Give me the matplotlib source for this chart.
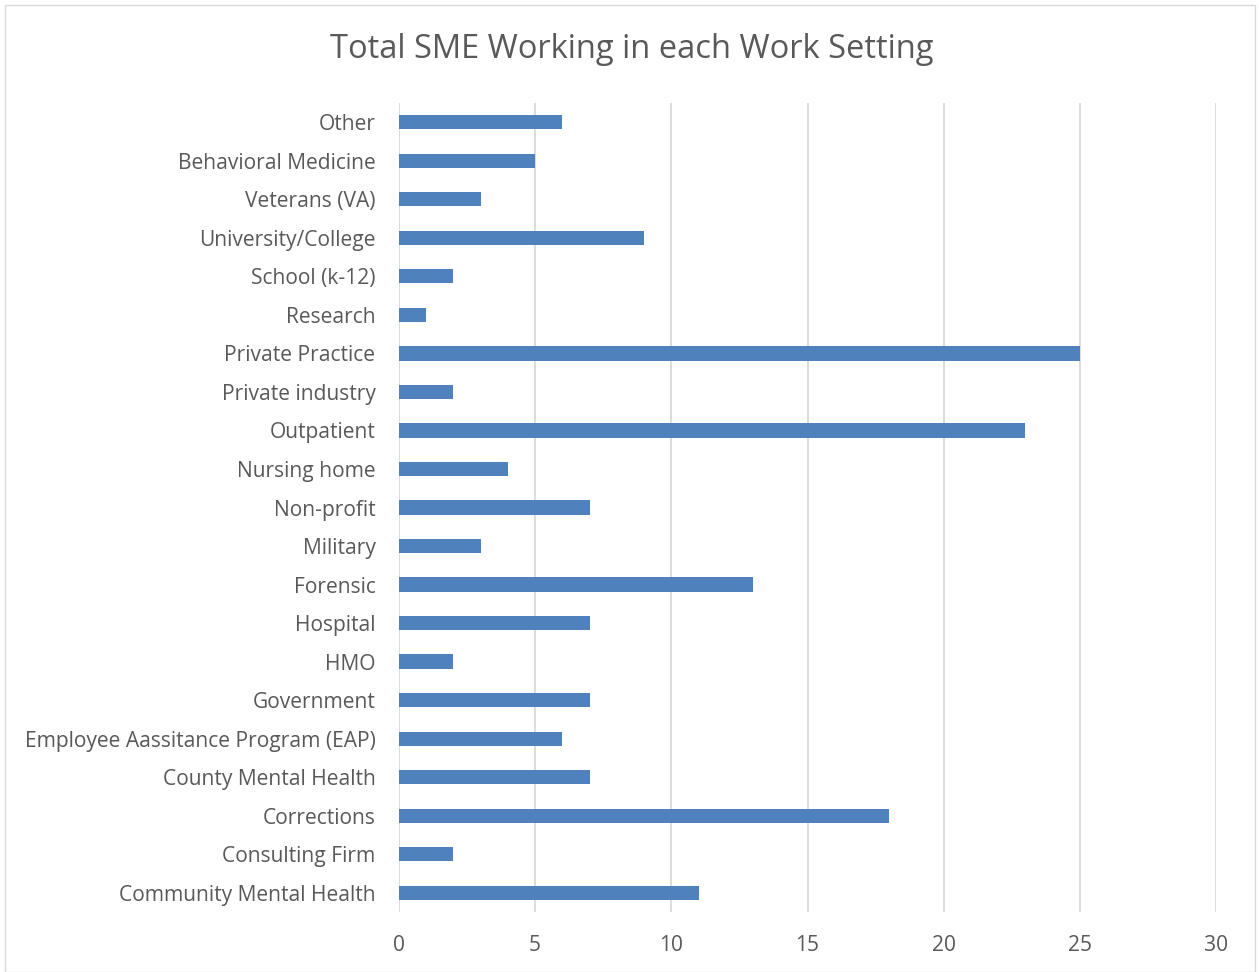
import matplotlib
matplotlib.use("Agg")
import matplotlib.pyplot as plt
from matplotlib.patches import Rectangle

plt.rcParams['font.family'] = ['Open Sans', 'DejaVu Sans']

categories = [
    "Community Mental Health", "Consulting Firm", "Corrections",
    "County Mental Health", "Employee Aassitance Program (EAP)", "Government",
    "HMO", "Hospital", "Forensic", "Military", "Non-profit", "Nursing home",
    "Outpatient", "Private industry", "Private Practice", "Research",
    "School (k-12)", "University/College", "Veterans (VA)",
    "Behavioral Medicine", "Other",
]
counts = [11, 2, 18, 7, 6, 7, 2, 7, 13, 3, 7, 4, 23, 2, 25, 1, 2, 9, 3, 5, 6]
x_ticks = [0, 5, 10, 15, 20, 25, 30]
title = "Total SME Working in each Work Setting"

W, H = 1259, 972
fig = plt.figure(figsize=(W / 100, H / 100), dpi=100)
fig.patch.set_facecolor("white")

# light outer frame of the chart area
fig.patches.append(Rectangle((5 / W, 0.5 / H), (W - 9) / W, (H - 6) / H,
                             transform=fig.transFigure, fill=False,
                             edgecolor="#d9d9d9", linewidth=1.0))

ax = fig.add_axes([399 / W, 1 - 912 / H, (1216 - 399) / W, (912 - 103) / H])
y = list(range(len(categories)))
ax.barh(y, counts, height=0.37, color="#4f81bd", zorder=3)

ax.set_xlim(0, 30)
ax.set_ylim(-0.5, len(categories) - 0.5)
ax.set_xticks(x_ticks)
ax.set_yticks(y)
ax.set_yticklabels(categories)
ax.grid(axis="x", color="#d9d9d9", linewidth=1.3, zorder=0)
for s in ax.spines.values():
    s.set_visible(False)
ax.tick_params(axis="both", length=0, labelsize=15.1, labelcolor="#595959")
ax.tick_params(axis="y", pad=17)
ax.tick_params(axis="x", pad=16.5)

fig.text(632 / W, 1 - 50 / H, title, ha="center", va="center",
         fontsize=23.5, color="#595959")

fig.savefig("out.png", dpi=100)
